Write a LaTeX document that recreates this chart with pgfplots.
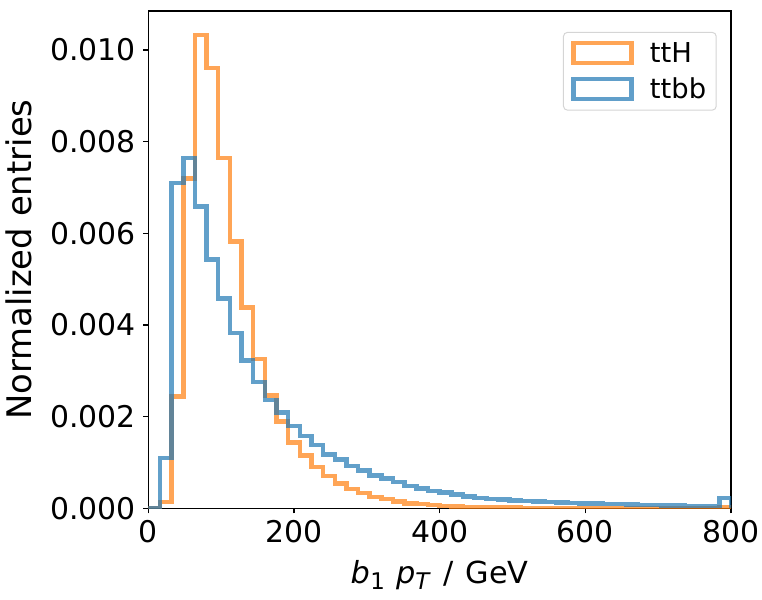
\documentclass[border=0pt]{standalone}
\usepackage{fontspec}
\setmainfont{DejaVu Sans}
\usepackage{pgfplots}
\pgfplotsset{compat=1.18}
\definecolor{mplorange}{HTML}{FF7F0E}
\definecolor{mplblue}{HTML}{1F77B4}
\definecolor{legedge}{HTML}{D5D5D5}
\begin{document}
\begin{tikzpicture}
\begin{axis}[
  scale only axis,
  width=582.7bp, height=497.3bp,
  xmin=0, xmax=800, ymin=0, ymax=0.01085,
  xtick={0,200,400,600,800},
  ytick={0,0.002,0.004,0.006,0.008,0.010},
  scaled y ticks=false,
  yticklabel style={/pgf/number format/fixed,/pgf/number format/precision=3,/pgf/number format/fixed zerofill, xshift=-4bp},
  xticklabel style={yshift=-3bp},
  /pgf/number format/assume math mode=true,
  tick label style={font=\fontsize{30}{36}\selectfont},
  tick align=outside, major tick length=5bp,
  xtick pos=left, ytick pos=left,
  axis line style={line width=1.1bp},
  every tick/.style={black, line width=1.1bp},
  xlabel={{\itshape b}\hspace{0.5bp}\raisebox{-6.5bp}{\fontsize{23}{23}\selectfont 1}\hspace{11bp}{\itshape p}\raisebox{-6.5bp}{\fontsize{23}{23}\selectfont\itshape T}\hspace{14bp}/\hspace{12bp}GeV},
  ylabel={Normalized entries},
  xlabel style={font=\fontsize{30.5}{36}\selectfont, at={(axis description cs:0.5,-0.1508)}, anchor=base},
  ylabel style={font=\fontsize{34}{40}\selectfont, at={(axis description cs:-0.2001,0.5)}, anchor=base},
  legend style={font=\fontsize{27.5}{33}\selectfont, draw=legedge, line width=1bp, rounded corners=4bp,
    at={(0.9755,0.958)}, anchor=north east, fill=white,
    row sep=10bp, inner xsep=8bp, inner ysep=8bp,
    /tikz/every odd column/.append style={column sep=14bp}},
  legend cell align=left,
  legend image code/.code={\draw[#1, rounded corners=0pt, line join=miter] (0bp,-10bp) rectangle (58bp,10bp);},
]
\addplot[const plot, draw=mplorange, draw opacity=0.7, line width=4.5bp, line join=miter] coordinates {
(0,0) (16,0.00014) (32,0.00244) (48,0.00720) (64,0.01033) (80,0.00961) (96,0.00764) (112,0.00582)
(128,0.00438) (144,0.00326) (160,0.00246) (176,0.00189) (192,0.00144) (208,0.00115) (224,0.00090)
(240,0.00070) (256,0.00054) (272,0.00042) (288,0.00033) (304,0.00025) (320,0.00020) (336,0.00015)
(352,0.00011) (368,0.00009) (384,0.00007) (400,0.00005) (416,0.00004) (432,0.00003) (448,0.00003)
(464,0.00002) (480,0.00002) (496,0.00002) (512,0.00001) (528,0.00001) (544,0.00001) (560,0.00001)
(576,0.00001) (592,0.00001) (608,0.000005) (624,0.000005) (640,0.000005) (656,0.000003) (672,0.000003)
(688,0.000003) (704,0.000002) (720,0.000002) (736,0.000002) (752,0.000001) (768,0.000001) (784,0.00002)
(800,0.00002) (800,0)
};
\addlegendentry{ttH}
\addplot[const plot, draw=mplblue, draw opacity=0.7, line width=4.5bp, line join=miter] coordinates {
(0,0) (16,0.00110) (32,0.00710) (48,0.00764) (64,0.00658) (80,0.00543) (96,0.00458) (112,0.00383)
(128,0.00322) (144,0.00276) (160,0.00236) (176,0.00209) (192,0.00180) (208,0.00158) (224,0.00138)
(240,0.00117) (256,0.00107) (272,0.00092) (288,0.00082) (304,0.00072) (320,0.00065) (336,0.00057)
(352,0.00049) (368,0.00043) (384,0.00038) (400,0.00034) (416,0.00030) (432,0.00026) (448,0.00023)
(464,0.00020) (480,0.00019) (496,0.00017) (512,0.00016) (528,0.00015) (544,0.00014) (560,0.00013)
(576,0.00012) (592,0.00011) (608,0.00010) (624,0.00009) (640,0.00009) (656,0.00008) (672,0.00007)
(688,0.00007) (704,0.00006) (720,0.00006) (736,0.00005) (752,0.00005) (768,0.00005) (784,0.00023)
(800,0.00023) (800,0)
};
\addlegendentry{ttbb}
\end{axis}
\pgfresetboundingbox
\path[use as bounding box] ([xshift=-148.3bp,yshift=-90.7bp]current axis.south west) rectangle ([xshift=31bp,yshift=11bp]current axis.north east);
\end{tikzpicture}
\end{document}
